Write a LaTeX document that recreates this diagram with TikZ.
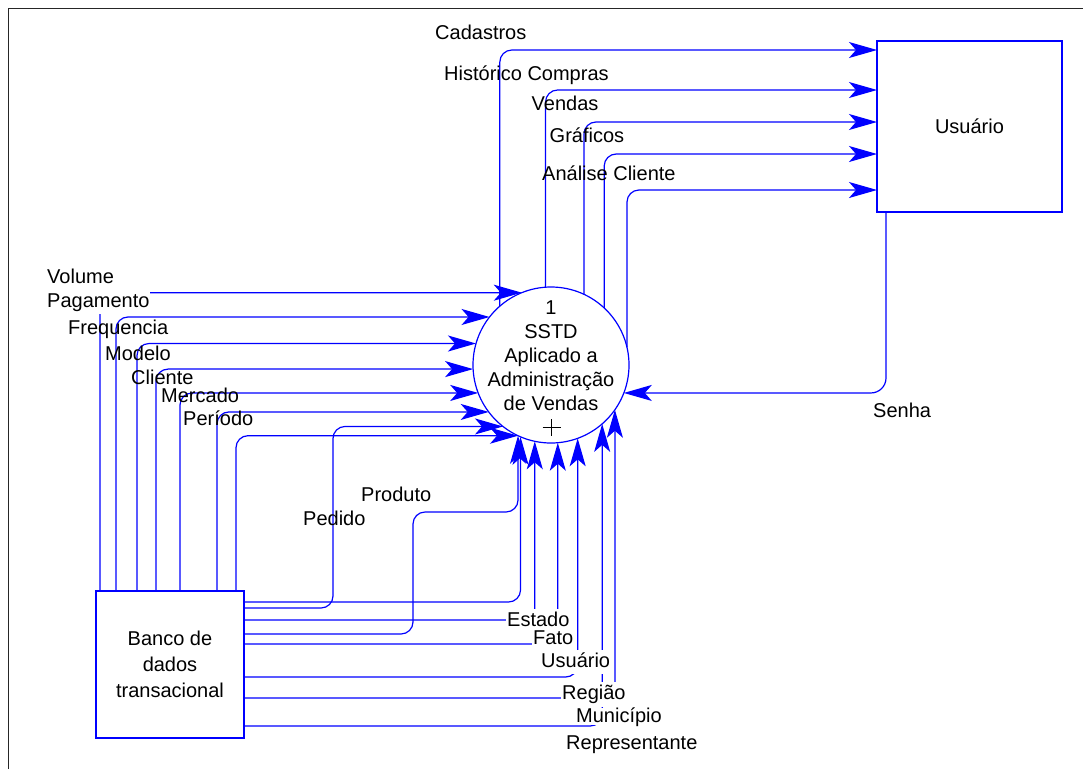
\documentclass[tikz,border=0pt]{standalone}
\usepackage{fontspec}
\setmainfont{Liberation Sans}
\usetikzlibrary{arrows.meta}
\begin{document}
\begin{tikzpicture}[x=1pt,y=-1pt,
  flow/.style={draw=blue, line width=1.2pt, rounded corners=12pt,
    -{Stealth[length=28pt,width=16pt,inset=7pt]}},
  txt/.style={font=\fontsize{20}{24}\selectfont, inner sep=0pt},
  lbl/.style={txt, anchor=base west, text height=14.5pt, text depth=4pt},
  mask/.style={lbl, fill=white, inner xsep=1pt, inner ysep=3pt},
  boxnode/.style={draw=blue, line width=1.3pt, inner sep=0pt, outer sep=0pt}]

\useasboundingbox (0,0) rectangle (1083,769);

% page frame
\draw[line width=1.6pt, black!85] (8.5,769) -- (8.5,8.5) -- (1083,8.5);

% process, external entity and data store
\node[circle, draw=blue, line width=1.2pt, minimum size=156pt,
      inner sep=0pt, outer sep=0pt] (sstd) at (551,365) {};
\node[boxnode, txt, minimum width=185pt, minimum height=171pt] (usr)
      at (969.5,126.5) {Usuário};
\node[boxnode, font=\fontsize{20}{26}\selectfont, align=center,
      minimum width=148pt, minimum height=147pt] (bank)
      at (170,664.5) {Banco de\\dados\\transacional};

% flows from the process to the user
\draw[flow] (sstd.131.8) |- (usr.west |- 0,50);
\draw[flow] (sstd.94.4)  |- (usr.west |- 0,90);
\draw[flow] (sstd.65.8)  |- (usr.west |- 0,122);
\draw[flow] (sstd.47.2)  |- (usr.west |- 0,154);
\draw[flow] (sstd.13)    |- (usr.west |- 0,190);

% password from the user
\draw[flow, rounded corners=15pt] (usr.south -| 886,0) |- (sstd.339);

% flows from the data store top side
\draw[flow] (bank.north -| 100,0) |- (sstd.112.6);
\draw[flow] (bank.north -| 116,0) |- (sstd.142.9);
\draw[flow] (bank.north -| 137,0) |- (sstd.164.4);
\draw[flow] (bank.north -| 156,0) |- (sstd.183.7);
\draw[flow] (bank.north -| 180,0) |- (sstd.201.8);
\draw[flow] (bank.north -| 217,0) |- (sstd.217.1);
\draw[flow] (bank.north -| 236,0) |- (sstd.245.5);

% flows from the data store right side
\draw[flow] (bank.east |- 0,602) -| (sstd.247.4);
\draw[flow] (bank.east |- 0,608) -| (sstd.232.7 -| 333,0) -- (sstd.232.7);
\draw[flow] (bank.east |- 0,620) -| (sstd.258.9);
\draw[flow] (bank.east |- 0,634) -| (413,512) -| (sstd.245);
\draw[flow] (bank.east |- 0,644) -| (sstd.275.9);
\draw[flow] (bank.east |- 0,677) -| (sstd.290.2);
\draw[flow] (bank.east |- 0,698) -| (sstd.325.1);
\draw[flow] (bank.east |- 0,726) -| (sstd.311.8);

% process text, with the decomposition mark below it
\node[txt, align=center] (sstdtxt) at (551,368)
  {1\\SSTD\\Aplicado a\\Administração\\de Vendas\\\phantom{+}};
\draw[line width=1pt] (542.5,427.5) -- (560.5,427.5)
                      (551.5,419) -- (551.5,436);

% flow labels
\node[lbl] (lcad) at (435,39.5) {Cadastros};
\node[lbl] (lhis) at (444,80) {Histórico Compras};
\node[lbl] (lven) at (531.5,110.5) {Vendas};
\node[lbl] (lgra) at (549.5,142) {Gráficos};
\node[lbl] (lana) at (542,180) {Análise Cliente};
\node[lbl] (lsen) at (873,417) {Senha};

\node[mask] (lvol) at (46,283) {Volume};
\node[mask] (lpag) at (46,307) {Pagamento};
\node[lbl] (lfre) at (68,334) {Frequencia};
\node[lbl] (lmod) at (105,360) {Modelo};
\node[lbl] (lcli) at (131,384) {Cliente};
\node[lbl] (lmer) at (161,402) {Mercado};
\node[lbl] (lper) at (183,425.5) {Período};

\node[lbl] (lpro) at (361,501) {Produto};
\node[lbl] (lped) at (303,525.5) {Pedido};

\node[mask] (lest) at (506,626.5) {Estado};
\node[mask] (lfat) at (532,644.5) {Fato};
\node[mask] (lusu) at (540,667) {Usuário};
\node[mask] (lreg) at (561,699.5) {Região};
\node[lbl, fill=white, inner xsep=1pt, inner ysep=0pt, text depth=3pt]
  (lmun) at (575,722) {Município};
\node[lbl] (lrep) at (566,749.5) {Representante};

\end{tikzpicture}
\end{document}
